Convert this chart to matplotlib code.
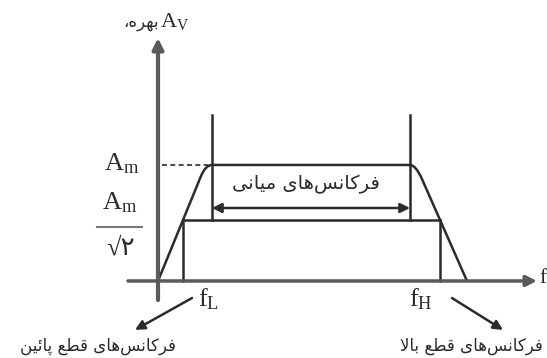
import matplotlib
matplotlib.use('Agg')
import matplotlib.pyplot as plt
from matplotlib.path import Path
from matplotlib.patches import PathPatch

plt.rcParams['mathtext.fontset'] = 'custom'
plt.rcParams['mathtext.rm'] = 'Liberation Serif'
plt.rcParams['mathtext.it'] = 'Liberation Serif:italic'

# schematic frequency response (f in arbitrary units, gain in units of A_m)
f_L = 25
f_H = 282
f_mid = [54, 252]
A_m = 1.0
A_cut = 0.526
response_f = [0, 42.8, 47.5, 54, 252, 257.7, 263.9, 309]
response_g = [0, 0.9, 1.0, 1.0, 1.0, 1.0, 0.88, 0]
mid_top = 1.43

# persian labels, logical order of presentation-form glyphs (no shaping in matplotlib)
farkansha = ['\uFED3', '\uFEAE', '\uFB90', '\uFE8E', '\uFEE7', '\uFEB2', '\uFEEB', '\uFE8E', '\uFBFC']
miani = ['\uFEE3', '\uFBFF', '\uFE8E', '\uFEE7', '\uFBFD']
ghat = ['\uFED7', '\uFEC4', '\uFECA']
paein = ['\uFB58', '\uFE8E', '\uFE8B', '\uFBFF', '\uFEE6']
bala = ['\uFE91', '\uFE8E', '\uFEFB']
bahre = ['\uFE91', '\uFEEC', '\uFEAE', '\uFEE9', '\u060C']


def visual(*words):
    glyphs = []
    for i, w in enumerate(words):
        if i:
            glyphs.append(' ')
        glyphs += w
    return ''.join(reversed(glyphs))


ink = '#2b2b2b'
axc = '#5a5a5a'
fa = ['DejaVu Sans']

fig = plt.figure(figsize=(5.47, 3.58), dpi=100)
ax = fig.add_axes([0, 0, 1, 1])
ax.set_xlim(-158, 389)
ax.set_ylim(-0.664, 2.422)
ax.axis('off')

# axes arrows
ax.annotate('', xy=(0, 2.095), xytext=(0, -0.164),
            arrowprops=dict(arrowstyle='-|>', lw=3, color=axc, mutation_scale=16, shrinkA=0, shrinkB=0))
ax.annotate('', xy=(379, 0), xytext=(-30, 0),
            arrowprops=dict(arrowstyle='-|>', lw=2.5, color=axc, mutation_scale=16, shrinkA=0, shrinkB=0))

# response curve with rounded corners
codes = [Path.MOVETO, Path.LINETO, Path.CURVE3, Path.CURVE3,
         Path.LINETO, Path.CURVE3, Path.CURVE3, Path.LINETO]
curve = Path(list(zip(response_f, response_g)), codes)
ax.add_patch(PathPatch(curve, fill=False, lw=1.8, ec=ink))

# guide lines
for f in f_mid:
    ax.plot([f, f], [A_cut, mid_top], color=ink, lw=1.8)
for f in [f_L, f_H]:
    ax.plot([f, f], [0, A_cut], color=ink, lw=1.8)
ax.plot([f_L, f_H], [A_cut, A_cut], color=ink, lw=1.8)
ax.plot([4, f_mid[0]], [A_m, A_m], color=ink, lw=1.2, ls=(0, (3, 2)))

ax.annotate('', xy=(f_mid[0], 0.629), xytext=(f_mid[1], 0.629),
            arrowprops=dict(arrowstyle='<|-|>', lw=1.8, color=ink, mutation_scale=14, shrinkA=0, shrinkB=0))
ax.text(148, 0.83, visual(farkansha, miani), family=fa, fontsize=14,
        color=ink, ha='center', va='center')

# gain labels
ax.text(-36, 1.01, r'$\mathrm{A_m}$', fontsize=19, color=ink, ha='center', va='center')
ax.text(-38, 0.68, r'$\mathrm{A_m}$', fontsize=19, color=ink, ha='center', va='center')
ax.plot([-61, -16], [0.466, 0.466], color='#777777', lw=1.5)
ax.text(-37, 0.28, '\u221A\u06F2', family=['Liberation Serif', 'DejaVu Sans'], fontsize=19,
        color=ink, ha='center', va='center')

# axis labels
ax.text(1, 2.235, visual(bahre), family=fa, fontsize=12, color=ink, ha='right', va='center')
ax.text(2, 2.24, r'$\mathrm{A_V}$', fontsize=16, color=ink, ha='left', va='center')
ax.text(381, 0.02, 'f', family='Liberation Serif', fontsize=15, color=ink, ha='left', va='center')

# cutoff frequencies
ax.text(51, -0.16, r'$\mathrm{f_L}$', fontsize=19, color=ink, ha='center', va='center')
ax.text(263, -0.16, r'$\mathrm{f_H}$', fontsize=19, color=ink, ha='center', va='center')
ax.annotate('', xy=(-23, -0.422), xytext=(34, -0.147),
            arrowprops=dict(arrowstyle='-|>', lw=1.8, color=ink, mutation_scale=14, shrinkA=0, shrinkB=0))
ax.annotate('', xy=(345, -0.422), xytext=(294, -0.147),
            arrowprops=dict(arrowstyle='-|>', lw=1.8, color=ink, mutation_scale=14, shrinkA=0, shrinkB=0))
ax.text(-60, -0.56, visual(farkansha, ghat, paein), family=fa, fontsize=12,
        color=ink, ha='center', va='center')
ax.text(385, -0.56, visual(farkansha, ghat, bala), family=fa, fontsize=12,
        color=ink, ha='right', va='center')

fig.savefig('out.png', dpi=100)
